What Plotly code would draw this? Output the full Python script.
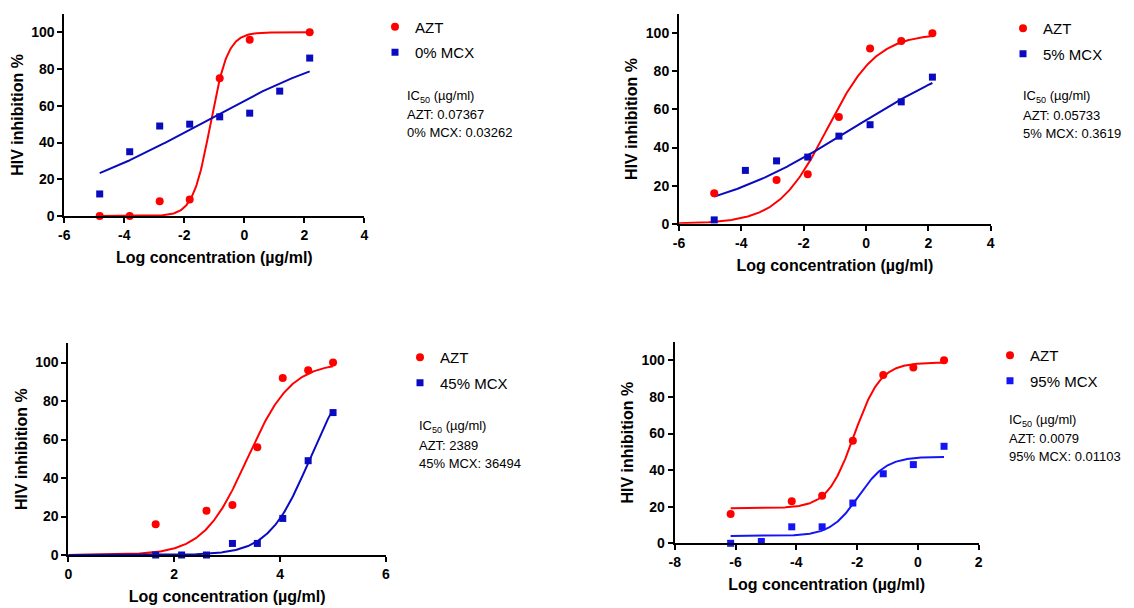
import numpy as np
import plotly.graph_objects as go

W, H = 1134, 608
FONT = "Arial, Liberation Sans, sans-serif"
RED = "#FF0000"

# ---------------- data ----------------
# Panel 1 (0% MCX)
p1_azt_x = [-4.82, -3.82, -2.82, -1.82, -0.82, 0.18, 2.18]
p1_azt_y = [0, 0, 8, 9, 75, 96, 100]
p1_mcx_x = [-4.82, -3.82, -2.82, -1.82, -0.82, 0.18, 1.18, 2.18]
p1_mcx_y = [12, 35, 49, 50, 54, 56, 68, 86]
# Panel 2 (5% MCX)
p2_azt_x = [-4.87, -2.87, -1.87, -0.87, 0.13, 1.13, 2.13]
p2_azt_y = [16, 23, 26, 56, 92, 96, 100]
p2_mcx_x = [-4.87, -3.87, -2.87, -1.87, -0.87, 0.13, 1.13, 2.13]
p2_mcx_y = [2, 28, 33, 35, 46, 52, 64, 77]
# Panel 3 (45% MCX)
p3_azt_x = [1.65, 2.61, 3.10, 3.57, 4.05, 4.53, 5.00]
p3_azt_y = [16, 23, 26, 56, 92, 96, 100]
p3_mcx_x = [1.65, 2.14, 2.61, 3.10, 3.57, 4.05, 4.53, 5.00]
p3_mcx_y = [0, 0, 0, 6, 6, 19, 49, 74]
# Panel 4 (95% MCX)
p4_azt_x = [-6.16, -4.15, -3.15, -2.14, -1.14, -0.15, 0.86]
p4_azt_y = [16, 23, 26, 56, 92, 96, 100]
p4_mcx_x = [-6.16, -5.15, -4.15, -3.15, -2.14, -1.14, -0.15, 0.86]
p4_mcx_y = [0, 1, 9, 9, 22, 38, 43, 53]

# fitted 4-parameter logistic curves: bottom, top, logIC50, hill slope, x start, x end
p1_azt_fit = [0, 100, -1.13, 1.5, -4.82, 2.18]
p1_mcx_fit = [0, 100, -1.49, 0.155, -4.82, 2.18]
p2_azt_fit = [0, 100, -1.24, 0.55, -6.0, 2.13]
p2_mcx_fit = [0, 100, -0.44, 0.176, -4.87, 2.13]
p3_azt_fit = [0, 100, 3.378, 1.05, 0.0, 5.0]
p3_mcx_fit = [0, 100, 4.562, 1.12, 0.0, 5.0]
p4_azt_fit = [19.2, 98.8, -2.10, 1.0, -6.16, 0.86]
p4_mcx_fit = [4.0, 47.3, -1.957, 0.95, -6.16, 0.86]

mcx_names = ["0% MCX", "5% MCX", "45% MCX", "95% MCX"]
ic50_azt = ["0.07367", "0.05733", "2389", "0.0079"]
ic50_mcx = ["0.03262", "0.3619", "36494", "0.01103"]
x_ranges = [[-6, 4], [-6, 4], [0, 6], [-8, 2]]
x_ticks = [[-6, -4, -2, 0, 2, 4], [-6, -4, -2, 0, 2, 4], [0, 2, 4, 6], [-8, -6, -4, -2, 0, 2]]
y_ticks = [0, 20, 40, 60, 80, 100]
blue_colors = ["#0A0ABF", "#0A0ABF", "#0A0ABF", "#1414F5"]

# ---------------- layout geometry (pixels) ----------------
plot_px = [  # left, right, top, bottom
    (64.3, 364.3, 14.0, 216.0),
    (679.0, 990.7, 14.3, 223.7),
    (68.3, 386.0, 343.3, 555.0),
    (674.7, 978.7, 342.0, 543.3),
]
legend_px = [(375, 10.5), (1003, 12), (400, 341), (990, 339)]
note_px = [(405, [96.7, 114.5, 132.3]), (1020.7, [96.7, 115.5, 133.3]),
           (417.3, [426.7, 445.0, 463.3]), (1007.3, [420.7, 438.5, 456.0])]


def fourpl(p, n=300):
    b, t, lic, h, x0, x1 = p
    xs = np.linspace(x0, x1, n)
    return xs, b + (t - b) / (1 + 10 ** ((lic - xs) * h))


def bold(vals):
    return ["<b>%s</b>" % v for v in vals]


panels = [
    (p1_azt_x, p1_azt_y, p1_mcx_x, p1_mcx_y, p1_azt_fit, p1_mcx_fit),
    (p2_azt_x, p2_azt_y, p2_mcx_x, p2_mcx_y, p2_azt_fit, p2_mcx_fit),
    (p3_azt_x, p3_azt_y, p3_mcx_x, p3_mcx_y, p3_azt_fit, p3_mcx_fit),
    (p4_azt_x, p4_azt_y, p4_mcx_x, p4_mcx_y, p4_azt_fit, p4_mcx_fit),
]

fig = go.Figure()
layout = dict(
    width=W, height=H, margin=dict(l=0, r=0, t=0, b=0, autoexpand=False),
    paper_bgcolor="white", plot_bgcolor="white",
    font=dict(family=FONT, color="black"),
    annotations=[],
)

for i, (ax_, ay_, mx_, my_, afit, mfit) in enumerate(panels):
    k = "" if i == 0 else str(i + 1)
    xa, ya = "x" + k, "y" + k
    leg = "legend" + k
    blue = blue_colors[i]
    cx, cy = fourpl(afit)
    fig.add_trace(go.Scatter(x=cx, y=cy, mode="lines", line=dict(color=RED, width=2),
                             xaxis=xa, yaxis=ya, showlegend=False, hoverinfo="skip"))
    cx, cy = fourpl(mfit)
    fig.add_trace(go.Scatter(x=cx, y=cy, mode="lines", line=dict(color=blue, width=2),
                             xaxis=xa, yaxis=ya, showlegend=False, hoverinfo="skip"))
    fig.add_trace(go.Scatter(x=ax_, y=ay_, mode="markers", name="AZT",
                             legendgroup="a%d" % i,
                             marker=dict(symbol="circle", color=RED, size=8),
                             xaxis=xa, yaxis=ya, legend=leg, cliponaxis=False))
    fig.add_trace(go.Scatter(x=mx_, y=my_, mode="markers", name=mcx_names[i],
                             legendgroup="m%d" % i,
                             marker=dict(symbol="square", color=blue, size=7),
                             xaxis=xa, yaxis=ya, legend=leg, cliponaxis=False))

    l, r, t, b = plot_px[i]
    axis_common = dict(showgrid=False, zeroline=False, showline=True, linecolor="black",
                       linewidth=2, ticks="outside", ticklen=5, tickwidth=2, tickcolor="black",
                       automargin=False,
                       tickfont=dict(family=FONT, size=14, color="black"))
    layout["xaxis" + k] = dict(
        domain=[l / W, r / W], anchor=ya, range=x_ranges[i],
        tickmode="array", tickvals=x_ticks[i], ticktext=bold(x_ticks[i]),
        title=dict(text="<b>Log concentration (µg/ml)</b>",
                   font=dict(family=FONT, size=16), standoff=10),
        **axis_common)
    layout["yaxis" + k] = dict(
        domain=[1 - b / H, 1 - t / H], anchor=xa, range=[0, 110],
        tickmode="array", tickvals=y_ticks, ticktext=bold(y_ticks),
        title=dict(text="<b>HIV inhibition %</b>",
                   font=dict(family=FONT, size=16), standoff=4),
        **axis_common)

    lx, ly = legend_px[i]
    layout[leg] = dict(x=lx / W, y=1 - ly / H, xanchor="left", yanchor="top",
                       bgcolor="rgba(0,0,0,0)", borderwidth=0,
                       font=dict(family=FONT, size=15, color="black"),
                       itemwidth=30, tracegroupgap=3)

    nx, nys = note_px[i]
    lines = ["IC<sub>50</sub> (µg/ml)", "AZT: " + ic50_azt[i], mcx_names[i] + ": " + ic50_mcx[i]]
    for txt, yy in zip(lines, nys):
        layout["annotations"].append(dict(
            text=txt, x=nx / W, y=1 - yy / H, xref="paper", yref="paper",
            xanchor="left", yanchor="middle", showarrow=False,
            font=dict(family=FONT, size=13, color="black")))

fig.update_layout(**layout)
fig.write_html("out.html")
